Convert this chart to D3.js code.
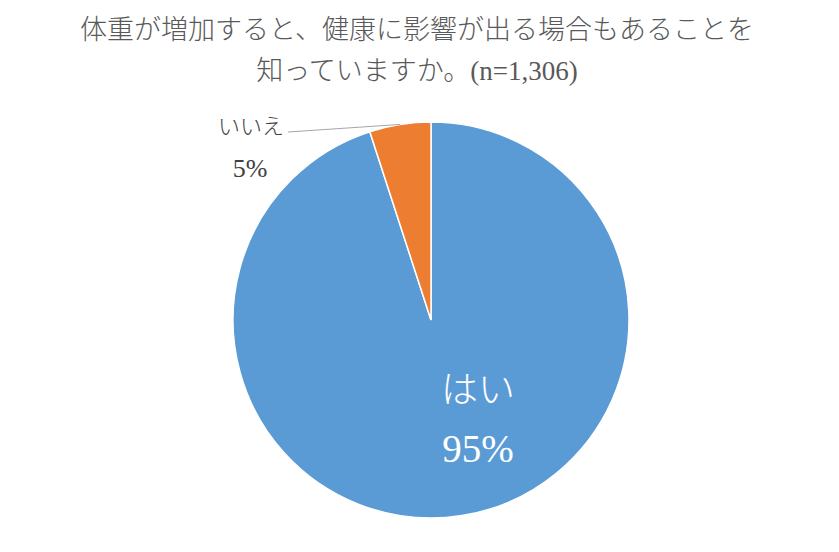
<!DOCTYPE html>
<html>
<head>
<meta charset="utf-8">
<script src="https://cdn.jsdelivr.net/npm/d3@7"></script>
<style>
  html, body { margin: 0; padding: 0; background: #fff; }
</style>
</head>
<body>
<svg id="chart"></svg>
<script>
'use strict';

const titleLines = ['体重が増加すると、健康に影響が出る場合もあることを', '知っていますか。(n=1,306)'];
const categories = ['はい', 'いいえ'];
const values = [95, 5];
const colors = ['#5b9bd5', '#ed7d31'];

(function () {
    const width = 839;
    const height = 552;
    const cx = 431;
    const cy = 320;
    const radius = 198;
    const jp = '"Noto Sans CJK JP", sans-serif';
    const latin = '"Liberation Serif", serif';

    // split a string into runs of latin / japanese so each gets its own font
    function runs(s) {
        return s.match(/[\x20-\x7e]+|[^\x20-\x7e]+/g)
            .map(t => ({ t: t, latin: /^[\x20-\x7e]+$/.test(t) }));
    }

    const svg = d3.select('#chart')
        .attr('width', width)
        .attr('height', height);

    const title = svg.selectAll('.title')
        .data(titleLines)
        .enter().append('text')
        .attr('class', 'title')
        .attr('x', 417)
        .attr('y', (d, i) => 39 + i * 41)
        .attr('text-anchor', 'middle')
        .attr('font-size', 27)
        .attr('fill', '#595959');

    title.selectAll('tspan')
        .data(d => runs(d))
        .enter().append('tspan')
        .attr('font-family', d => d.latin ? latin : jp)
        .attr('font-weight', d => d.latin ? 400 : 300)
        .text(d => d.t);

    const data = categories.map((c, i) => ({ name: c, value: values[i] }));

    const pie = d3.pie()
        .sort(null)
        .value(d => d.value);
    const arcs = pie(data);

    const arc = d3.arc()
        .innerRadius(0)
        .outerRadius(radius);

    const g = svg.append('g')
        .attr('transform', 'translate(' + cx + ',' + cy + ')');

    g.selectAll('.slice')
        .data(arcs)
        .enter().append('path')
        .attr('class', 'slice')
        .attr('fill', (d, i) => colors[i])
        .attr('stroke', '#fff')
        .attr('stroke-width', 1.5)
        .attr('d', arc);

    // big slice label, inside
    const yes = arcs[0];
    g.append('text')
        .attr('x', 47)
        .attr('y', 83)
        .attr('text-anchor', 'middle')
        .attr('font-family', jp)
        .attr('font-weight', 300)
        .attr('font-size', 37)
        .attr('fill', '#fff')
        .text(yes.data.name);
    g.append('text')
        .attr('x', 47)
        .attr('y', 142)
        .attr('text-anchor', 'middle')
        .attr('font-family', latin)
        .attr('font-weight', 400)
        .attr('font-size', 39)
        .attr('fill', '#fff')
        .text(yes.data.value + '%');

    // small slice label, outside with leader line
    const no = arcs[1];
    const mid = (no.startAngle + no.endAngle) / 2;
    const edge = [radius * Math.sin(mid), -radius * Math.cos(mid)];
    g.append('path')
        .attr('fill', 'none')
        .attr('stroke', '#a6a6a6')
        .attr('stroke-width', 1)
        .attr('d', 'M' + edge + 'L' + [-143, -188]);
    g.append('text')
        .attr('x', -180)
        .attr('y', -186)
        .attr('text-anchor', 'middle')
        .attr('font-family', jp)
        .attr('font-weight', 300)
        .attr('font-size', 22)
        .attr('fill', '#404040')
        .text(no.data.name);
    g.append('text')
        .attr('x', -181)
        .attr('y', -143)
        .attr('text-anchor', 'middle')
        .attr('font-family', latin)
        .attr('font-weight', 400)
        .attr('font-size', 26)
        .attr('fill', '#404040')
        .text(no.data.value + '%');
})();
</script>
</body>
</html>
